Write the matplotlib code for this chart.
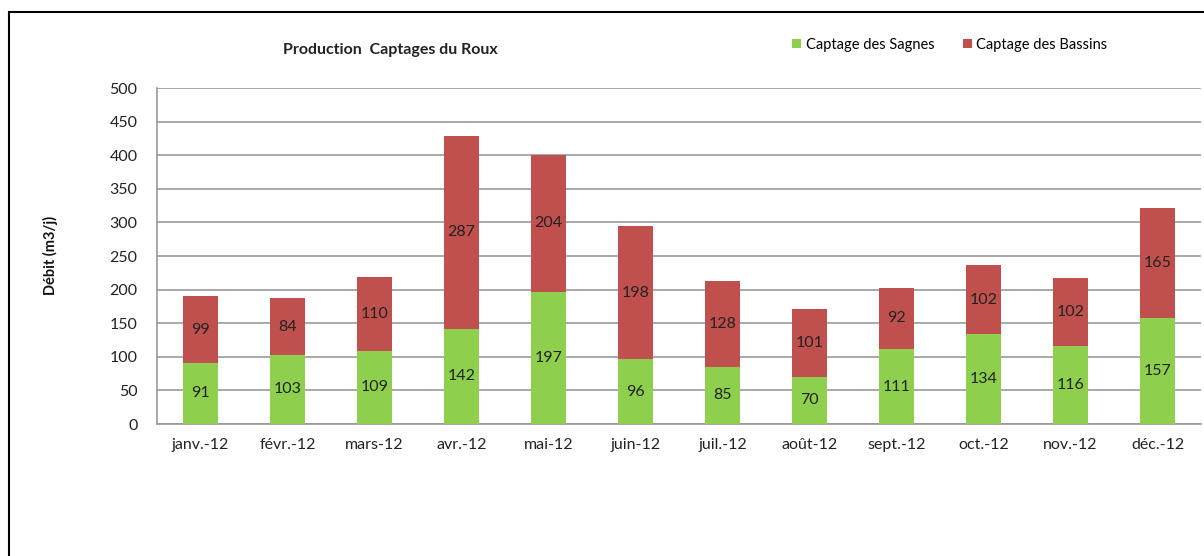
import numpy as np
import matplotlib.pyplot as plt
from matplotlib.patches import Rectangle

plt.rcParams['font.family'] = ['Lato', 'DejaVu Sans']

mois = ["janv.-12", "févr.-12", "mars-12", "avr.-12", "mai-12", "juin-12",
        "juil.-12", "août-12", "sept.-12", "oct.-12", "nov.-12", "déc.-12"]
sagnes = [91, 103, 109, 142, 197, 96, 85, 70, 111, 134, 116, 157]
bassins = [99, 84, 110, 287, 204, 198, 128, 101, 92, 102, 102, 165]

vert = "#8ED04E"
rouge = "#C0504D"

fig = plt.figure(figsize=(12.04, 5.56), dpi=100)
ax = fig.add_axes([157/1204, 1-424/556, (1201-157)/1204, (424-88)/556])

x = np.arange(len(mois))
b1 = ax.bar(x, sagnes, width=0.4, color=vert, label="Captage des Sagnes", zorder=3)
b2 = ax.bar(x, bassins, width=0.4, bottom=sagnes, color=rouge,
            label="Captage des Bassins", zorder=3)

for i in range(len(mois)):
    ax.text(x[i], sagnes[i] / 2, str(sagnes[i]), ha="center", va="center",
            fontsize=11.5, color="#222222", zorder=4)
    ax.text(x[i], sagnes[i] + bassins[i] / 2, str(bassins[i]), ha="center",
            va="center", fontsize=11.5, color="#222222", zorder=4)

ax.set_xlim(-0.5, len(mois) - 0.5)
ax.set_ylim(0, 500)
ax.set_yticks(range(0, 501, 50))
ax.set_xticks(x)
ax.set_xticklabels(mois)
ax.tick_params(axis="both", length=0, labelsize=11.5, colors="#222222")
ax.tick_params(axis="y", pad=14)
ax.tick_params(axis="x", pad=10)
ax.grid(axis="y", color="#999999", linewidth=1.2, zorder=0)
for s in ["top", "right"]:
    ax.spines[s].set_visible(False)
for s in ["left", "bottom"]:
    ax.spines[s].set_color("#999999")
    ax.spines[s].set_linewidth(1.2)

fig.text(390/1204, 1-50/556, "Production  Captages du Roux", ha="center",
         va="center", fontsize=11.5, fontweight="bold", color="#222222")
fig.text(50/1204, 1-255/556, "Débit (m3/j)", rotation=90, ha="center",
         va="center", fontsize=10.5, fontweight="bold", color="#111111")

fig.legend(handles=[b1, b2], loc="center", bbox_to_anchor=(950/1204, 1-45/556),
           ncol=2, frameon=False, fontsize=10.5, handlelength=0.6,
           handleheight=0.6, handletextpad=0.3, columnspacing=2.0)

fig.patches.append(Rectangle((9/1204, -0.1), 1.2, 1.1 - 12/556,
                             transform=fig.transFigure, fill=False,
                             edgecolor="black", linewidth=1.5))

fig.savefig("out.png", dpi=100)
